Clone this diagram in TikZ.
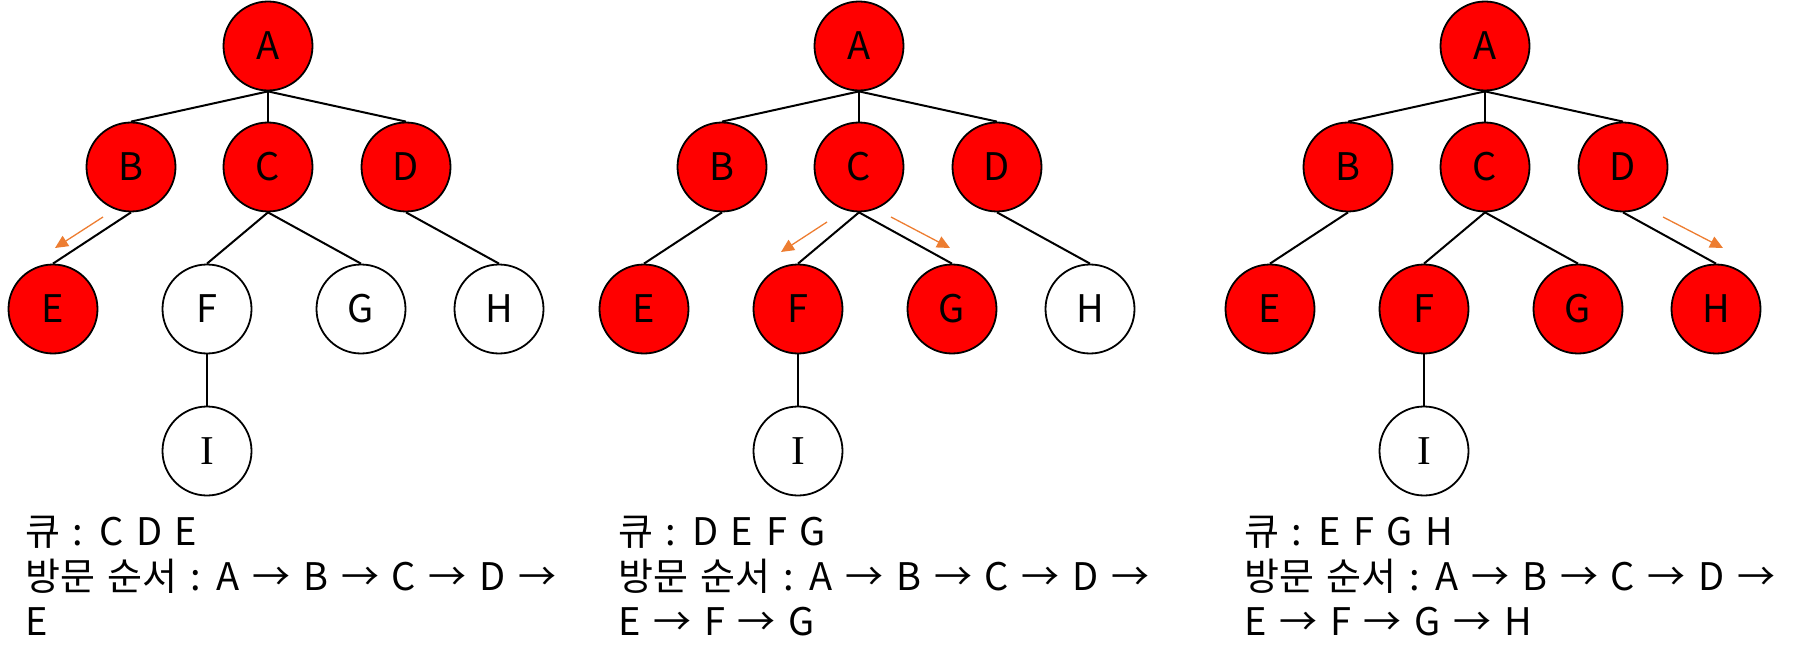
\documentclass[tikz,border=0pt]{standalone}
\usepackage{fontspec}
\setmainfont{Noto Sans CJK KR}
\newfontfamily\capfont{Noto Sans CJK KR}[WordSpace=1.5]
\newfontfamily\serifI{Liberation Serif}
\usetikzlibrary{arrows.meta}
\definecolor{nodered}{HTML}{FF0000}
\definecolor{trace}{HTML}{ED7D31}
\begin{document}
\begin{tikzpicture}[x=1pt,y=-1pt,
  vtx/.style={circle,draw=black,line width=1.8pt,minimum size=89pt,inner sep=0pt,font=\fontsize{38}{38}\selectfont},
  seen/.style={vtx,fill=nodered},
  unseen/.style={vtx,fill=white},
  iletter/.style={font=\fontsize{41}{41}\serifI},
  edge/.style={line width=2pt},
  trail/.style={draw=trace,line width=1.3pt,-{Triangle[length=13pt,width=12pt]}},
  caption/.style={anchor=base west,inner sep=0pt,font=\fontsize{38}{38}\capfont}]
\useasboundingbox (0,0) rectangle (1810,663);

% ---------- tree 1 ----------
\begin{scope}[shift={(0,0)}]
\node[seen]   (a1) at (268,46)  {A};
\node[seen]   (b1) at (131,167) {B};
\node[seen]   (c1) at (268,167) {C};
\node[seen]   (d1) at (406,167) {D};
\node[seen]   (e1) at (53,309)  {E};
\node[unseen] (f1) at (207,309) {F};
\node[unseen] (g1) at (361,309) {G};
\node[unseen] (h1) at (499,309) {H};
\node[unseen,iletter] (i1) at (207,451) {I};
\coordinate (s1) at (103,217);
\coordinate (t1) at (55,248);
\node[caption] (q1) at (25,545) {큐 : C D E};
\node[caption] (v1) at (25,590) {방문 순서 : A → B → C → D →};
\node[caption] (w1) at (25,635) {E};
\end{scope}
\draw[edge] (a1.south) -- (b1.north);
\draw[edge] (a1.south) -- (c1.north);
\draw[edge] (a1.south) -- (d1.north);
\draw[edge] (b1.south) -- (e1.north);
\draw[edge] (c1.south) -- (f1.north);
\draw[edge] (c1.south) -- (g1.north);
\draw[edge] (d1.south) -- (h1.north);
\draw[edge] (f1.south) -- (i1.north);
\draw[trail] (s1) -- (t1);

% ---------- tree 2 ----------
\begin{scope}[shift={(591,0)}]
\node[seen]   (a2) at (268,46)  {A};
\node[seen]   (b2) at (131,167) {B};
\node[seen]   (c2) at (268,167) {C};
\node[seen]   (d2) at (406,167) {D};
\node[seen]   (e2) at (53,309)  {E};
\node[seen]   (f2) at (207,309) {F};
\node[seen]   (g2) at (361,309) {G};
\node[unseen] (h2) at (499,309) {H};
\node[unseen,iletter] (i2) at (207,451) {I};
\coordinate (s2) at (236,222);
\coordinate (t2) at (190,252);
\coordinate (s3) at (300,217);
\coordinate (t3) at (359,248);
\node[caption] (q2) at (27,545) {큐 : D E F G};
\node[caption] (v2) at (27,590) {방문 순서 : A → B → C → D →};
\node[caption] (w2) at (27,635) {E → F → G};
\end{scope}
\draw[edge] (a2.south) -- (b2.north);
\draw[edge] (a2.south) -- (c2.north);
\draw[edge] (a2.south) -- (d2.north);
\draw[edge] (b2.south) -- (e2.north);
\draw[edge] (c2.south) -- (f2.north);
\draw[edge] (c2.south) -- (g2.north);
\draw[edge] (d2.south) -- (h2.north);
\draw[edge] (f2.south) -- (i2.north);
\draw[trail] (s2) -- (t2);
\draw[trail] (s3) -- (t3);

% ---------- tree 3 ----------
\begin{scope}[shift={(1217,0)}]
\node[seen]   (a3) at (268,46)  {A};
\node[seen]   (b3) at (131,167) {B};
\node[seen]   (c3) at (268,167) {C};
\node[seen]   (d3) at (406,167) {D};
\node[seen]   (e3) at (53,309)  {E};
\node[seen]   (f3) at (207,309) {F};
\node[seen]   (g3) at (361,309) {G};
\node[seen]   (h3) at (499,309) {H};
\node[unseen,iletter] (i3) at (207,451) {I};
\coordinate (s4) at (446,217);
\coordinate (t4) at (506,248);
\node[caption] (q3) at (27,545) {큐 : E F G H};
\node[caption] (v3) at (27,590) {방문 순서 : A → B → C → D →};
\node[caption] (w3) at (27,635) {E → F → G → H};
\end{scope}
\draw[edge] (a3.south) -- (b3.north);
\draw[edge] (a3.south) -- (c3.north);
\draw[edge] (a3.south) -- (d3.north);
\draw[edge] (b3.south) -- (e3.north);
\draw[edge] (c3.south) -- (f3.north);
\draw[edge] (c3.south) -- (g3.north);
\draw[edge] (d3.south) -- (h3.north);
\draw[edge] (f3.south) -- (i3.north);
\draw[trail] (s4) -- (t4);
\end{tikzpicture}
\end{document}
